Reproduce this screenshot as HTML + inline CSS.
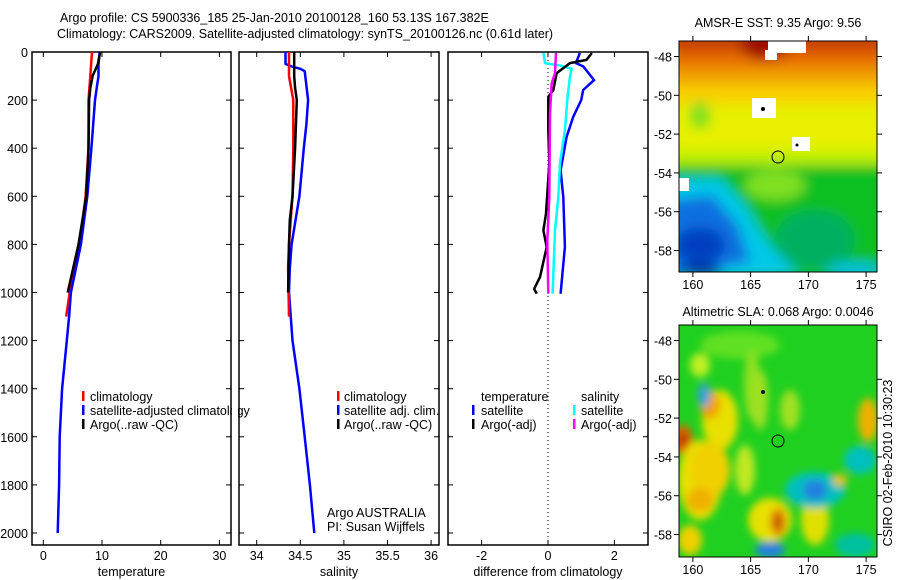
<!DOCTYPE html>
<html><head><meta charset="utf-8">
<style>
html,body{margin:0;padding:0;background:#fff;}
svg{display:block;font-family:"Liberation Sans",sans-serif;}
text{font-size:12.5px;fill:#000;}
</style></head>
<body>
<svg id="fig" width="900" height="580" viewBox="0 0 900 580" xmlns="http://www.w3.org/2000/svg">
<defs>
<filter id="blur1" x="-20%" y="-20%" width="140%" height="140%"><feGaussianBlur stdDeviation="6"/></filter>
<filter id="blur2" x="-20%" y="-20%" width="140%" height="140%"><feGaussianBlur stdDeviation="4"/></filter>
<clipPath id="clipM1"><rect x="679" y="41" width="198" height="231"/></clipPath>
<clipPath id="clipM2"><rect x="679" y="325" width="198" height="232"/></clipPath>
</defs>
<text x="60" y="22">Argo profile: CS 5900336_185 25-Jan-2010 20100128_160 53.13S 167.382E</text>
<text x="57" y="38">Climatology: CARS2009. Satellite-adjusted climatology: synTS_20100126.nc (0.61d later)</text>

<g id="p1"></g>
<g id="p2"></g>
<g id="p3"></g>

<!-- legends -->
<g>
<rect x="82" y="391" width="2.5" height="10" fill="#f00"/><text x="90" y="401">climatology</text>
<rect x="82" y="405" width="2.5" height="10" fill="#00f"/><text x="90" y="415">satellite-adjusted climatology</text>
<rect x="82" y="419" width="2.5" height="10" fill="#000"/><text x="90" y="429">Argo(..raw -QC)</text>
</g>
<rect x="232" y="380" width="6" height="60" fill="#fff"/>
<g>
<rect x="337" y="391" width="2.5" height="10" fill="#f00"/><text x="344" y="401">climatology</text>
<rect x="337" y="405" width="2.5" height="10" fill="#00f"/><text x="344" y="415">satellite adj. clim.</text>
<rect x="337" y="419" width="2.5" height="10" fill="#000"/><text x="344" y="429">Argo(..raw -QC)</text>
</g>
<text x="327" y="517">Argo AUSTRALIA</text>
<text x="327" y="531">PI: Susan Wijffels</text>
<g>
<text x="481" y="401">temperature</text>
<rect x="472" y="405" width="2.5" height="10" fill="#00f"/><text x="481" y="415">satellite</text>
<rect x="472" y="419" width="2.5" height="10" fill="#000"/><text x="481" y="429">Argo(-adj)</text>
<text x="581" y="401">salinity</text>
<rect x="573" y="405" width="2.5" height="10" fill="#0ff"/><text x="581" y="415">satellite</text>
<rect x="573" y="419" width="2.5" height="10" fill="#f0f"/><text x="581" y="429">Argo(-adj)</text>
</g>

<!-- Map 1 SST -->
<text x="778" y="27" text-anchor="middle">AMSR-E SST: 9.35 Argo: 9.56</text>
<g clip-path="url(#clipM1)">
<rect x="679" y="41" width="198" height="231" fill="#00c040"/>
<rect x="679" y="41" width="198" height="130" fill="#e8f000"/>
<g filter="url(#blur1)">
<rect x="670" y="30" width="220" height="25" fill="#c84000"/>
<rect x="670" y="52" width="220" height="18" fill="#e87000"/>
<rect x="670" y="68" width="220" height="18" fill="#f0a000"/>
<rect x="670" y="84" width="220" height="20" fill="#f8d000"/>
<ellipse cx="765" cy="45" rx="25" ry="15" fill="#a01000"/>
<ellipse cx="700" cy="115" rx="10" ry="14" fill="#80e020"/>
<rect x="670" y="150" width="220" height="22" fill="#c0f000"/>
<rect x="670" y="165" width="220" height="110" fill="#10c020"/>
<ellipse cx="775" cy="185" rx="30" ry="15" fill="#80e020"/>
<ellipse cx="815" cy="240" rx="40" ry="30" fill="#00b060"/>
<path d="M670 178 L720 178 L745 205 L770 245 L800 275 L670 280 Z" fill="#00c8e8"/>
<path d="M670 200 L712 195 L738 225 L750 262 L670 275 Z" fill="#1070e0"/>
<ellipse cx="700" cy="245" rx="25" ry="18" fill="#0040c0"/>
<ellipse cx="700" cy="270" rx="22" ry="6" fill="#001090"/>
<ellipse cx="855" cy="270" rx="30" ry="8" fill="#00c0e0"/>
</g>
<rect x="768" y="41" width="38" height="12" fill="#fff"/><rect x="765" y="50" width="12" height="10" fill="#fff"/>
<rect x="752" y="98" width="24" height="20" fill="#fff"/>
<rect x="792" y="137" width="18" height="14" fill="#fff"/>
<rect x="679" y="178" width="10" height="13" fill="#fff"/>
<circle cx="763" cy="109" r="2" fill="#000"/><circle cx="797" cy="145" r="1.5" fill="#000"/>
</g>
<circle cx="778" cy="157" r="6" fill="none" stroke="#000"/>
<rect x="679" y="41" width="198" height="231" fill="none" stroke="#000"/>
<g id="m1ticks"></g>

<!-- Map 2 SLA -->
<text x="778" y="316" text-anchor="middle">Altimetric SLA: 0.068 Argo: 0.0046</text>
<g clip-path="url(#clipM2)">
<rect x="679" y="325" width="198" height="232" fill="#20d020"/>
<g filter="url(#blur2)">
<ellipse cx="740" cy="345" rx="40" ry="14" fill="#60e020"/>
<ellipse cx="700" cy="365" rx="10" ry="12" fill="#c0f020"/>
<ellipse cx="752" cy="385" rx="8" ry="35" fill="#90e020"/>
<ellipse cx="720" cy="420" rx="18" ry="30" fill="#e8e000"/>
<ellipse cx="710" cy="405" rx="10" ry="14" fill="#f0a000"/>
<ellipse cx="683" cy="440" rx="10" ry="15" fill="#e06000"/>
<ellipse cx="683" cy="440" rx="4" ry="6" fill="#b02000"/>
<ellipse cx="700" cy="480" rx="22" ry="40" fill="#e8e000"/>
<ellipse cx="710" cy="470" rx="20" ry="28" fill="#f0d000"/>
<ellipse cx="700" cy="500" rx="14" ry="12" fill="#f0b000"/>
<ellipse cx="690" cy="540" rx="12" ry="15" fill="#f0d000"/>
<ellipse cx="704" cy="395" rx="6" ry="12" fill="#30a0e0"/>
<ellipse cx="760" cy="400" rx="8" ry="30" fill="#a0e020"/>
<ellipse cx="790" cy="410" rx="10" ry="20" fill="#a0e020"/>
<ellipse cx="745" cy="470" rx="10" ry="25" fill="#c0e820"/>
<ellipse cx="770" cy="520" rx="22" ry="22" fill="#e8e000"/>
<ellipse cx="778" cy="522" rx="8" ry="14" fill="#e08000"/>
<ellipse cx="778" cy="522" rx="3" ry="6" fill="#b04000"/>
<ellipse cx="815" cy="520" rx="14" ry="25" fill="#e0e000"/>
<ellipse cx="815" cy="490" rx="30" ry="18" fill="#00c0c0"/>
<ellipse cx="815" cy="490" rx="12" ry="10" fill="#2080e0"/>
<ellipse cx="770" cy="550" rx="15" ry="8" fill="#2080e0"/>
<ellipse cx="860" cy="460" rx="16" ry="14" fill="#00c0c0"/>
<ellipse cx="868" cy="420" rx="10" ry="22" fill="#f0b000"/>
<ellipse cx="855" cy="545" rx="20" ry="12" fill="#00c0a0"/>
<ellipse cx="840" cy="480" rx="7" ry="6" fill="#f0c000"/>
</g>
<circle cx="763" cy="392" r="2" fill="#000"/>
</g>
<circle cx="778" cy="441" r="6" fill="none" stroke="#000"/>
<rect x="679" y="325" width="198" height="232" fill="none" stroke="#000"/>
<g id="m2ticks"></g>
<text transform="translate(892,463) rotate(-90)" text-anchor="middle">CSIRO 02-Feb-2010 10:30:23</text>
</svg>
<script>
// Depth levels and profile values
const tDepthClim = [0,100,200,400,600,800,1000,1100];
const tClim = [8.3,8.0,7.7,7.7,7.2,6.2,4.5,3.9];
const tDepthSat = [0,50,100,150,200,400,600,800,1000,1100,1200,1400,1600,1800,2000];
const tSat = [9.6,9.4,9.4,9.1,8.8,8.2,7.5,6.4,4.7,4.4,4.0,3.2,2.8,2.7,2.45];
const tDepthArgo = [0,50,100,150,200,400,600,800,1000];
const tArgo = [9.7,9.3,8.4,8.0,7.8,7.7,7.3,6.0,4.15];
const sDepthClim = [0,100,200,400,600,800,900,1100];
const sClim = [34.37,34.37,34.42,34.42,34.41,34.37,34.36,34.37];
const sDepthSat = [0,50,60,70,80,200,300,400,600,800,900,1000,1200,1400,1600,1800,2000];
const sSat = [34.33,34.33,34.4,34.5,34.55,34.59,34.57,34.54,34.49,34.40,34.38,34.37,34.41,34.49,34.55,34.61,34.66];
const sDepthArgo = [0,100,150,200,400,600,700,800,1000];
const sArgo = [34.43,34.43,34.44,34.46,34.44,34.41,34.38,34.37,34.36];
const dDepthTSat = [4,46,60,117,158,200,270,353,492,603,811,1005];
const dTSat = [0.96,0.84,1.06,1.39,1.06,1.0,0.76,0.56,0.38,0.46,0.51,0.38];
const dDepthSSat = [4,46,56,70,105,186,325,464,603,742,1005];
const dSSat = [-0.14,-0.09,0.36,0.71,0.66,0.59,0.51,0.36,0.31,0.21,0.14];
const dDepthTArgo = [4,33,46,88,158,186,325,464,672,742,811,936,985,1005];
const dTArgo = [1.32,1.16,0.66,0.26,0.16,0.01,0.01,0.04,-0.06,-0.14,-0.04,-0.24,-0.42,-0.34];
const dDepthSArgo = [4,88,130,255,603,783,1005];
const dSArgo = [0.24,0.21,0.11,0.06,0.04,-0.02,0.01];
const depthTicks = [0,200,400,600,800,1000,1200,1400,1600,1800,2000];
const tTicks = [0,10,20,30];
const sTicks = [34,34.5,35,35.5,36];
const sTickLabels = ['34','34.5','35','35.5','36'];
const dTicks = [-2,0,2];
const lonTicks = [160,165,170,175];
const latTicks = [-48,-50,-52,-54,-56,-58];

const NS='http://www.w3.org/2000/svg';
const top0=52, bot=545;
const yD = d => top0 + d*0.2405;
function mk(tag, attrs, parent){const e=document.createElementNS(NS,tag);for(const k in attrs)e.setAttribute(k,attrs[k]);parent.appendChild(e);return e;}

function panel(g, x0, x1, xf, xticks, xlabels, xtitle, showY){
  const fr = mk('rect',{x:x0,y:top0,width:x1-x0,height:bot-top0,fill:'none',stroke:'#000','stroke-width':1.5},g);
  
  
  depthTicks.forEach(d=>{
    const y=yD(d);
    mk('line',{x1:x0,x2:x0+5,y1:y,y2:y,stroke:'#000'},g);
    mk('line',{x1:x1-5,x2:x1,y1:y,y2:y,stroke:'#000'},g);
    if(showY){const t=mk('text',{x:x0-4,y:y+5,'text-anchor':'end'},g);t.textContent=d;
      
      }
  });
  xticks.forEach((v,i)=>{
    const x=xf(v);
    mk('line',{x1:x,x2:x,y1:top0,y2:top0+5,stroke:'#000'},g);
    mk('line',{x1:x,x2:x,y1:bot-5,y2:bot,stroke:'#000'},g);
    const t=mk('text',{x:x,y:560,'text-anchor':'middle'},g);t.textContent=xlabels[i];
    
    
  });
  const tt=mk('text',{x:(x0+x1)/2,y:576,'text-anchor':'middle'},g);tt.textContent=xtitle;
  
  
}
function line(g, xs, ds, xf, color, name){
  const pts = xs.map((v,i)=>xf(v).toFixed(1)+','+yD(ds[i]).toFixed(1)).join(' ');
  const p=mk('polyline',{points:pts,fill:'none',stroke:color,'stroke-width':2.5,'stroke-linejoin':'round'},g);
  
  
}
const xT = v => 43.3 + v*5.87;
const xS = v => 256.7 + (v-34)*87.2;
const xDf = v => 548 + v*33.2;

const p1=document.getElementById('p1');
panel(p1,32,231,xT,tTicks,tTicks.map(String),'temperature',true);
line(p1,tClim,tDepthClim,xT,'#f00','temp-climatology-line');
line(p1,tSat,tDepthSat,xT,'#00f','temp-satellite-line');
line(p1,tArgo,tDepthArgo,xT,'#000','temp-argo-line');

const p2=document.getElementById('p2');
panel(p2,239,439,xS,sTicks,sTickLabels,'salinity',false);
line(p2,sSat,sDepthSat,xS,'#00f','sal-satellite-line');
line(p2,sClim,sDepthClim,xS,'#f00','sal-climatology-line');
line(p2,sArgo,sDepthArgo,xS,'#000','sal-argo-line');

const p3=document.getElementById('p3');
panel(p3,448,648,xDf,dTicks,dTicks.map(String),'difference from climatology',false);
const zl=mk('line',{x1:xDf(0),x2:xDf(0),y1:top0,y2:bot,stroke:'#000','stroke-dasharray':'1,3'},p3);


line(p3,dTSat,dDepthTSat,xDf,'#00f','diff-temp-satellite-line');
line(p3,dSSat,dDepthSSat,xDf,'#0ff','diff-sal-satellite-line');
line(p3,dTArgo,dDepthTArgo,xDf,'#000','diff-temp-argo-line');
line(p3,dSArgo,dDepthSArgo,xDf,'#f0f','diff-sal-argo-line');

function mapTicks(g, top, bottom, latTop){
  const xL = lon => 679 + (lon-158.8)*11.55;
  const yL = lat => top + (latTop-lat)*19.4;
  lonTicks.forEach(l=>{
    const x=xL(l);
    mk('line',{x1:x,x2:x,y1:top-5,y2:top,stroke:'#000'},g);
    mk('line',{x1:x,x2:x,y1:bottom,y2:bottom+5,stroke:'#000'},g);
    const t=mk('text',{x:x,y:bottom+17,'text-anchor':'middle'},g);t.textContent=l;
    
    
  });
  latTicks.forEach(l=>{
    const y=yL(l);
    mk('line',{x1:674,x2:679,y1:y,y2:y,stroke:'#000'},g);
    mk('line',{x1:877,x2:882,y1:y,y2:y,stroke:'#000'},g);
    const t=mk('text',{x:672,y:y+5,'text-anchor':'end'},g);t.textContent=l;
    
    
  });
}
mapTicks(document.getElementById('m1ticks'),41,272,-47.2);
mapTicks(document.getElementById('m2ticks'),325,557,-47.2);
</script>
</body></html>
